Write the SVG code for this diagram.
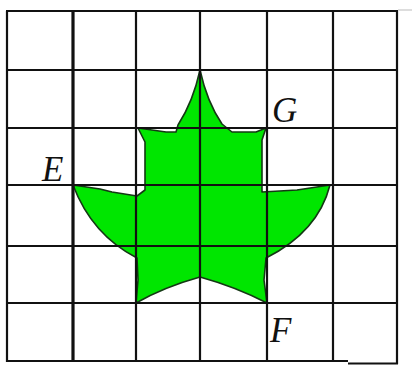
<svg xmlns="http://www.w3.org/2000/svg" width="412" height="368" viewBox="0 0 412 368">
  <style>
    .grid line { stroke: #111; stroke-width: 2.2; }
    .lbl { font-family: "Liberation Serif", "DejaVu Serif", serif; font-style: italic; font-size: 35px; fill: #111; }
    .leaf { fill: #00e600; stroke: #143814; stroke-width: 1.6; stroke-linejoin: round; }
  </style>
  <rect width="412" height="368" fill="#fff"/>
  <g id="leaf">
    <path class="leaf" d="M200,70 Q207,102 222,124 L232,132 L256,132 L266,128 L262,140 L262,192 L297,190 L330,185 Q318,232 266,258 L264,280 L267,303 Q236,287 200,277 Q164,287 136,303 L138,280 L137,258 Q92,235 73,185 L100,189 L112,192 L137,196 L145,190 L145,142 L138,128 L166,132 L176,132 L178,125 Q193,102 200,70 Z"/>
  </g>
  <g id="grid" class="grid">
    <line x1="7" y1="11" x2="7" y2="362"/>
    <line x1="73" y1="11" x2="73" y2="362" style="stroke-width:3.2"/>
    <line x1="136" y1="11" x2="136" y2="362"/>
    <line x1="200" y1="11" x2="200" y2="362"/>
    <line x1="267" y1="11" x2="267" y2="362"/>
    <line x1="333" y1="11" x2="333" y2="362"/>
    <line x1="397" y1="11" x2="397" y2="364"/>
    <line x1="6" y1="11" x2="398" y2="11"/>
    <line x1="6" y1="70" x2="398" y2="70"/>
    <line x1="6" y1="128" x2="398" y2="128"/>
    <line x1="6" y1="185" x2="398" y2="185"/>
    <line x1="6" y1="246" x2="398" y2="246"/>
    <line x1="6" y1="303" x2="398" y2="303"/>
    <line x1="6" y1="361" x2="348" y2="361"/>
    <line x1="348" y1="363.5" x2="398" y2="363.5"/>
    <line x1="398" y1="10" x2="412" y2="10" style="stroke:#bbb;stroke-width:1"/>
  </g>
  <g id="labels">
    <text class="lbl" x="42" y="181">E</text>
    <text class="lbl" x="272" y="122">G</text>
    <text class="lbl" x="270" y="342">F</text>
  </g>
</svg>
